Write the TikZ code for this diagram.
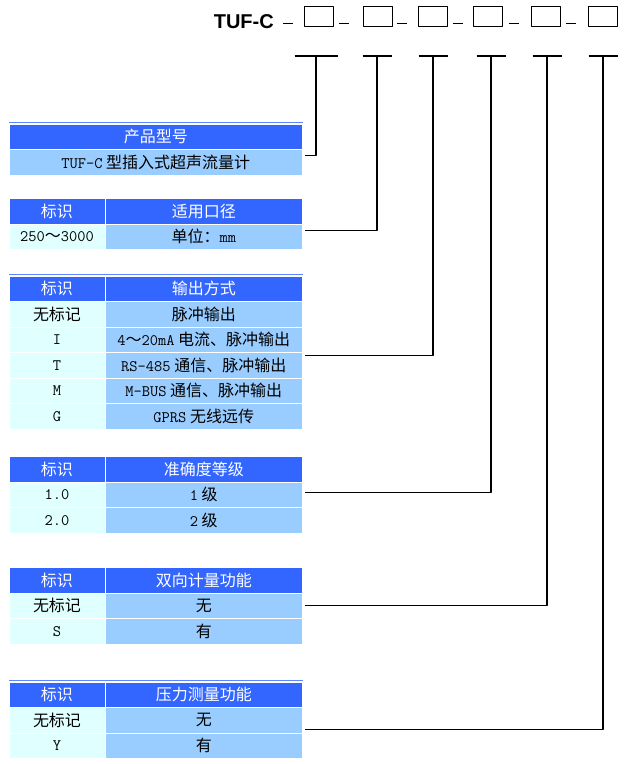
\documentclass[tikz,border=0pt]{standalone}
\usepackage{fontspec}
\setmainfont{Noto Sans CJK SC}
\newfontfamily\codefont{Liberation Sans}
\newcommand{\mono}[1]{{\ttfamily #1}}
\definecolor{headblue}{RGB}{51,102,255}
\definecolor{cellblue}{RGB}{153,204,255}
\definecolor{cellcyan}{RGB}{224,255,255}
\begin{document}
\begin{tikzpicture}[x=1pt, y=-1pt, font=\fontsize{16}{18}\selectfont, line join=round]
			\tikzset{cell/.style={draw=white, line width=1pt, minimum height=25.5pt, inner sep=0pt, anchor=north},
				headcell/.style={cell, fill=headblue, text=white},
				keycell/.style={cell, fill=cellcyan},
				valcell/.style={cell, fill=cellblue},
				lcol/.style={minimum width=96pt},
				rcol/.style={minimum width=197.5pt},
				wide/.style={minimum width=293.5pt},
				slot/.style={draw, line width=1pt, minimum width=29pt, minimum height=20pt, inner sep=0pt, anchor=north west},
				link/.style={line width=1.2pt},
				topline/.style={draw=headblue!80!white, line width=1pt}
			}
			\useasboundingbox (0,0) rectangle (630,764);
			\node[anchor=base east, inner sep=0pt, font=\codefont\bfseries\fontsize{20}{22}\selectfont] (model) at (274,28) {TUF-C};
			\foreach \x [count=\i] in {304,363,418,473,531,588} \node[slot] (s\i) at (\x,6) {};
			\foreach \x in {283,339,397,453,509,566} \draw[line width=1pt] (\x,23)--++(10,0);
			\foreach \x/\w [count=\i] in {316/21.5,377/14.5,433/14.5,491/14.5,547/14.5,603/14.5} {
				\coordinate (t\i) at (\x,56);
				\draw[link] ([xshift=-\w pt]t\i)--([xshift=\w pt]t\i);
			}
			
			\draw[topline] (9,122)--(303,122);
			\node[headcell, wide] (m0) at (155.75,123.5) {产品型号};
			\node[valcell, wide] (m1) at (155.75,149) {\mono{TUF-C} 型插入式超声流量计};
			
			\node[headcell, lcol] (sizek0) at (57,198) {标识};
			\node[headcell, rcol] (sizev0) at (203.75,198) {适用口径};
			\node[keycell, lcol] (sizek1) at (57,223.5) {\mono{250}～\mono{3000}};
			\node[valcell, rcol] (sizev1) at (203.75,223.5) {单位：\mono{mm}};
			
			\draw[topline] (9,274)--(303,274);
			\node[headcell, lcol] (outk0) at (57,275.5) {标识};
			\node[headcell, rcol] (outv0) at (203.75,275.5) {输出方式};
			\foreach \k/\v [count=\i] in {无标记/脉冲输出, \mono{I}/\mono{4}～\mono{20mA} 电流、脉冲输出, \mono{T}/\mono{RS-485} 通信、脉冲输出, \mono{M}/\mono{M-BUS} 通信、脉冲输出, \mono{G}/\mono{GPRS} 无线远传} {
				\node[keycell, lcol] (outk\i) at (57,{275.5+25.5*\i}) {\k};
				\node[valcell, rcol] (outv\i) at (203.75,{275.5+25.5*\i}) {\v};
			}
			
			\node[headcell, lcol] (acck0) at (57,456) {标识};
			\node[headcell, rcol] (accv0) at (203.75,456) {准确度等级};
			\foreach \k/\v [count=\i] in {\mono{1.0}/\mono{1} 级, \mono{2.0}/\mono{2} 级} {
				\node[keycell, lcol] (acck\i) at (57,{456+25.5*\i}) {\k};
				\node[valcell, rcol] (accv\i) at (203.75,{456+25.5*\i}) {\v};
			}
			
			\node[headcell, lcol] (dirk0) at (57,567) {标识};
			\node[headcell, rcol] (dirv0) at (203.75,567) {双向计量功能};
			\foreach \k/\v [count=\i] in {无标记/无, \mono{S}/有} {
				\node[keycell, lcol] (dirk\i) at (57,{567+25.5*\i}) {\k};
				\node[valcell, rcol] (dirv\i) at (203.75,{567+25.5*\i}) {\v};
			}
			
			\draw[topline] (9,680)--(303,680);
			\node[headcell, lcol] (prek0) at (57,681.5) {标识};
			\node[headcell, rcol] (prev0) at (203.75,681.5) {压力测量功能};
			\foreach \k/\v [count=\i] in {无标记/无, \mono{Y}/有} {
				\node[keycell, lcol] (prek\i) at (57,{681.5+25.5*\i}) {\k};
				\node[valcell, rcol] (prev\i) at (203.75,{681.5+25.5*\i}) {\v};
			}
			
			\draw[link] (t1) |- ([xshift=2pt,yshift=6.75pt]m1.east);
			\draw[link] (t2) |- ([xshift=2pt,yshift=6.25pt]sizev1.east);
			\draw[link] (t3) |- ([xshift=2pt,yshift=9.75pt]outv3.east);
			\draw[link] (t4) |- ([xshift=2pt,yshift=2.25pt]accv1.east);
			\draw[link] (t5) |- ([xshift=2pt]dirv1.east);
			\draw[link] (t6) |- ([xshift=2pt,yshift=-9.25pt]prev1.east);
			
		\end{tikzpicture}
\end{document}
